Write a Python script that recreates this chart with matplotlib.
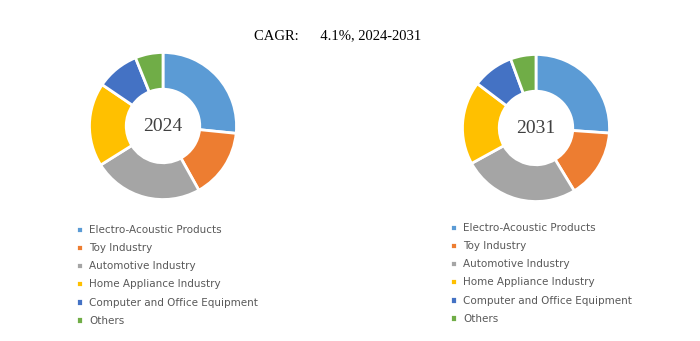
import matplotlib.pyplot as plt

categories = ["Electro-Acoustic Products", "Toy Industry", "Automotive Industry",
              "Home Appliance Industry", "Computer and Office Equipment", "Others"]
share_2024 = [26.6, 15.3, 24.2, 18.4, 9.4, 6.1]
share_2031 = [26.1, 15.2, 25.7, 18.3, 9.1, 5.6]
colors = ["#5B9BD5", "#ED7D31", "#A5A5A5", "#FFC000", "#4472C4", "#70AD47"]

W, H = 700, 341
fig = plt.figure(figsize=(7, 3.41), dpi=100)

fig.text(338 / W, 1 - 36 / H, "CAGR:      4.1%, 2024-2031", ha="center", va="center",
         family="Liberation Serif", fontsize=10.5, color="black")


def donut(cx, cy, r, values, year, leg_x, leg_y):
    ax = fig.add_axes([(cx - r) / W, 1 - (cy + r) / H, 2 * r / W, 2 * r / H])
    wedges, _ = ax.pie(values, colors=colors, startangle=90, counterclock=False,
                       radius=1, wedgeprops=dict(width=0.5, edgecolor="white", linewidth=2))
    ax.set_xlim(-1.02, 1.02)
    ax.set_ylim(-1.02, 1.02)
    ax.set_aspect("equal")
    ax.axis("off")
    ax.text(0, 0, year, ha="center", va="center", family="Liberation Serif",
            fontsize=14, color="#404040")
    fig.legend(wedges, categories, loc="upper left",
               bbox_to_anchor=(leg_x / W, 1 - leg_y / H), frameon=False,
               handlelength=0.65, handleheight=0.7, handletextpad=0.6,
               labelspacing=0.78, fontsize=7.5, labelcolor="#595959",
               borderpad=0, borderaxespad=0)


donut(163, 126, 75, share_2024, "2024", 76, 225)
donut(536, 128, 75, share_2031, "2031", 450, 223)

fig.savefig("out.png", dpi=100)
